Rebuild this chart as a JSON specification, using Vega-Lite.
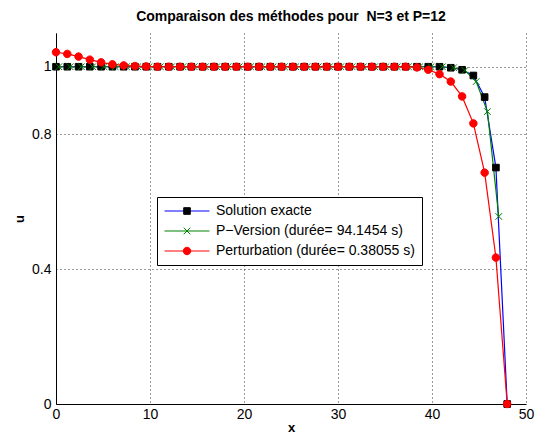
{
  "$schema": "https://vega.github.io/schema/vega-lite/v6.json",
  "width": 470,
  "height": 371,
  "autosize": "none",
  "padding": {"left": 56, "top": 33, "right": 9, "bottom": 33},
  "background": "white",
  "title": {"text": "Comparaison des méthodes pour \u00a0N=3 et P=12", "font": "Liberation Sans", "fontSize": 14, "fontWeight": "bold", "color": "black", "offset": 9, "anchor": "middle"},
  "config": {"view": {"stroke": null}, "font": "Liberation Sans"},
  "data": {"values": [
    {"serie": "Solution exacte", "x": 0, "u": 1.0},
    {"serie": "Solution exacte", "x": 1.2, "u": 1.0},
    {"serie": "Solution exacte", "x": 2.4, "u": 1.0},
    {"serie": "Solution exacte", "x": 3.6, "u": 1.0},
    {"serie": "Solution exacte", "x": 4.8, "u": 1.0},
    {"serie": "Solution exacte", "x": 6.0, "u": 1.0},
    {"serie": "Solution exacte", "x": 7.2, "u": 1.0},
    {"serie": "Solution exacte", "x": 8.4, "u": 1.0},
    {"serie": "Solution exacte", "x": 9.6, "u": 1.0},
    {"serie": "Solution exacte", "x": 10.8, "u": 1.0},
    {"serie": "Solution exacte", "x": 12.0, "u": 1.0},
    {"serie": "Solution exacte", "x": 13.2, "u": 1.0},
    {"serie": "Solution exacte", "x": 14.4, "u": 1.0},
    {"serie": "Solution exacte", "x": 15.6, "u": 1.0},
    {"serie": "Solution exacte", "x": 16.8, "u": 1.0},
    {"serie": "Solution exacte", "x": 18.0, "u": 1.0},
    {"serie": "Solution exacte", "x": 19.2, "u": 1.0},
    {"serie": "Solution exacte", "x": 20.4, "u": 1.0},
    {"serie": "Solution exacte", "x": 21.6, "u": 1.0},
    {"serie": "Solution exacte", "x": 22.8, "u": 1.0},
    {"serie": "Solution exacte", "x": 24.0, "u": 1.0},
    {"serie": "Solution exacte", "x": 25.2, "u": 1.0},
    {"serie": "Solution exacte", "x": 26.4, "u": 1.0},
    {"serie": "Solution exacte", "x": 27.6, "u": 1.0},
    {"serie": "Solution exacte", "x": 28.8, "u": 1.0},
    {"serie": "Solution exacte", "x": 30.0, "u": 1.0},
    {"serie": "Solution exacte", "x": 31.2, "u": 1.0},
    {"serie": "Solution exacte", "x": 32.4, "u": 1.0},
    {"serie": "Solution exacte", "x": 33.6, "u": 1.0},
    {"serie": "Solution exacte", "x": 34.8, "u": 1.0},
    {"serie": "Solution exacte", "x": 36.0, "u": 1.0},
    {"serie": "Solution exacte", "x": 37.2, "u": 1.0},
    {"serie": "Solution exacte", "x": 38.4, "u": 1.0},
    {"serie": "Solution exacte", "x": 39.6, "u": 1.0},
    {"serie": "Solution exacte", "x": 40.8, "u": 1.0},
    {"serie": "Solution exacte", "x": 42.0, "u": 0.997},
    {"serie": "Solution exacte", "x": 43.2, "u": 0.991},
    {"serie": "Solution exacte", "x": 44.4, "u": 0.974},
    {"serie": "Solution exacte", "x": 45.6, "u": 0.910},
    {"serie": "Solution exacte", "x": 46.8, "u": 0.701},
    {"serie": "Solution exacte", "x": 48.0, "u": 0.0},
    {"serie": "P−Version (durée= 94.1454 s)", "x": 0.3, "u": 1.0},
    {"serie": "P−Version (durée= 94.1454 s)", "x": 1.5, "u": 1.0},
    {"serie": "P−Version (durée= 94.1454 s)", "x": 2.7, "u": 1.0},
    {"serie": "P−Version (durée= 94.1454 s)", "x": 3.9, "u": 1.0},
    {"serie": "P−Version (durée= 94.1454 s)", "x": 5.1, "u": 1.0},
    {"serie": "P−Version (durée= 94.1454 s)", "x": 6.3, "u": 1.0},
    {"serie": "P−Version (durée= 94.1454 s)", "x": 7.5, "u": 1.0},
    {"serie": "P−Version (durée= 94.1454 s)", "x": 8.7, "u": 1.0},
    {"serie": "P−Version (durée= 94.1454 s)", "x": 9.9, "u": 1.0},
    {"serie": "P−Version (durée= 94.1454 s)", "x": 11.1, "u": 1.0},
    {"serie": "P−Version (durée= 94.1454 s)", "x": 12.3, "u": 1.0},
    {"serie": "P−Version (durée= 94.1454 s)", "x": 13.5, "u": 1.0},
    {"serie": "P−Version (durée= 94.1454 s)", "x": 14.7, "u": 1.0},
    {"serie": "P−Version (durée= 94.1454 s)", "x": 15.9, "u": 1.0},
    {"serie": "P−Version (durée= 94.1454 s)", "x": 17.1, "u": 1.0},
    {"serie": "P−Version (durée= 94.1454 s)", "x": 18.3, "u": 1.0},
    {"serie": "P−Version (durée= 94.1454 s)", "x": 19.5, "u": 1.0},
    {"serie": "P−Version (durée= 94.1454 s)", "x": 20.7, "u": 1.0},
    {"serie": "P−Version (durée= 94.1454 s)", "x": 21.9, "u": 1.0},
    {"serie": "P−Version (durée= 94.1454 s)", "x": 23.1, "u": 1.0},
    {"serie": "P−Version (durée= 94.1454 s)", "x": 24.3, "u": 1.0},
    {"serie": "P−Version (durée= 94.1454 s)", "x": 25.5, "u": 1.0},
    {"serie": "P−Version (durée= 94.1454 s)", "x": 26.7, "u": 1.0},
    {"serie": "P−Version (durée= 94.1454 s)", "x": 27.9, "u": 1.0},
    {"serie": "P−Version (durée= 94.1454 s)", "x": 29.1, "u": 1.0},
    {"serie": "P−Version (durée= 94.1454 s)", "x": 30.3, "u": 1.0},
    {"serie": "P−Version (durée= 94.1454 s)", "x": 31.5, "u": 1.0},
    {"serie": "P−Version (durée= 94.1454 s)", "x": 32.7, "u": 1.0},
    {"serie": "P−Version (durée= 94.1454 s)", "x": 33.9, "u": 1.0},
    {"serie": "P−Version (durée= 94.1454 s)", "x": 35.1, "u": 1.0},
    {"serie": "P−Version (durée= 94.1454 s)", "x": 36.3, "u": 1.0},
    {"serie": "P−Version (durée= 94.1454 s)", "x": 37.5, "u": 1.0},
    {"serie": "P−Version (durée= 94.1454 s)", "x": 38.7, "u": 1.0},
    {"serie": "P−Version (durée= 94.1454 s)", "x": 39.9, "u": 1.0},
    {"serie": "P−Version (durée= 94.1454 s)", "x": 41.1, "u": 1.0},
    {"serie": "P−Version (durée= 94.1454 s)", "x": 42.3, "u": 0.997},
    {"serie": "P−Version (durée= 94.1454 s)", "x": 43.5, "u": 0.989},
    {"serie": "P−Version (durée= 94.1454 s)", "x": 44.7, "u": 0.956},
    {"serie": "P−Version (durée= 94.1454 s)", "x": 45.9, "u": 0.867},
    {"serie": "P−Version (durée= 94.1454 s)", "x": 47.1, "u": 0.556},
    {"serie": "Perturbation (durée= 0.38055 s)", "x": 0, "u": 1.043},
    {"serie": "Perturbation (durée= 0.38055 s)", "x": 1.2, "u": 1.038},
    {"serie": "Perturbation (durée= 0.38055 s)", "x": 2.4, "u": 1.030},
    {"serie": "Perturbation (durée= 0.38055 s)", "x": 3.6, "u": 1.021},
    {"serie": "Perturbation (durée= 0.38055 s)", "x": 4.8, "u": 1.013},
    {"serie": "Perturbation (durée= 0.38055 s)", "x": 6.0, "u": 1.007},
    {"serie": "Perturbation (durée= 0.38055 s)", "x": 7.2, "u": 1.004},
    {"serie": "Perturbation (durée= 0.38055 s)", "x": 8.4, "u": 1.002},
    {"serie": "Perturbation (durée= 0.38055 s)", "x": 9.6, "u": 1.001},
    {"serie": "Perturbation (durée= 0.38055 s)", "x": 10.8, "u": 1.0},
    {"serie": "Perturbation (durée= 0.38055 s)", "x": 12.0, "u": 1.0},
    {"serie": "Perturbation (durée= 0.38055 s)", "x": 13.2, "u": 1.0},
    {"serie": "Perturbation (durée= 0.38055 s)", "x": 14.4, "u": 1.0},
    {"serie": "Perturbation (durée= 0.38055 s)", "x": 15.6, "u": 1.0},
    {"serie": "Perturbation (durée= 0.38055 s)", "x": 16.8, "u": 1.0},
    {"serie": "Perturbation (durée= 0.38055 s)", "x": 18.0, "u": 1.0},
    {"serie": "Perturbation (durée= 0.38055 s)", "x": 19.2, "u": 1.0},
    {"serie": "Perturbation (durée= 0.38055 s)", "x": 20.4, "u": 1.0},
    {"serie": "Perturbation (durée= 0.38055 s)", "x": 21.6, "u": 1.0},
    {"serie": "Perturbation (durée= 0.38055 s)", "x": 22.8, "u": 1.0},
    {"serie": "Perturbation (durée= 0.38055 s)", "x": 24.0, "u": 1.0},
    {"serie": "Perturbation (durée= 0.38055 s)", "x": 25.2, "u": 1.0},
    {"serie": "Perturbation (durée= 0.38055 s)", "x": 26.4, "u": 1.0},
    {"serie": "Perturbation (durée= 0.38055 s)", "x": 27.6, "u": 1.0},
    {"serie": "Perturbation (durée= 0.38055 s)", "x": 28.8, "u": 1.0},
    {"serie": "Perturbation (durée= 0.38055 s)", "x": 30.0, "u": 1.0},
    {"serie": "Perturbation (durée= 0.38055 s)", "x": 31.2, "u": 1.0},
    {"serie": "Perturbation (durée= 0.38055 s)", "x": 32.4, "u": 1.0},
    {"serie": "Perturbation (durée= 0.38055 s)", "x": 33.6, "u": 1.0},
    {"serie": "Perturbation (durée= 0.38055 s)", "x": 34.8, "u": 1.0},
    {"serie": "Perturbation (durée= 0.38055 s)", "x": 36.0, "u": 1.0},
    {"serie": "Perturbation (durée= 0.38055 s)", "x": 37.2, "u": 1.0},
    {"serie": "Perturbation (durée= 0.38055 s)", "x": 38.4, "u": 0.998},
    {"serie": "Perturbation (durée= 0.38055 s)", "x": 39.6, "u": 0.991},
    {"serie": "Perturbation (durée= 0.38055 s)", "x": 40.8, "u": 0.978},
    {"serie": "Perturbation (durée= 0.38055 s)", "x": 42.0, "u": 0.956},
    {"serie": "Perturbation (durée= 0.38055 s)", "x": 43.2, "u": 0.912},
    {"serie": "Perturbation (durée= 0.38055 s)", "x": 44.4, "u": 0.832},
    {"serie": "Perturbation (durée= 0.38055 s)", "x": 45.6, "u": 0.686},
    {"serie": "Perturbation (durée= 0.38055 s)", "x": 46.8, "u": 0.434},
    {"serie": "Perturbation (durée= 0.38055 s)", "x": 48.0, "u": 0.0}
  ]},
  "layer": [
    {
      "mark": {"type": "line", "strokeWidth": 1.2},
      "encoding": {
        "x": {"field": "x", "type": "quantitative",
          "scale": {"domain": [0, 50], "nice": false, "zero": false},
          "axis": {"values": [0, 10, 20, 30, 40, 50], "title": "x", "titleFont": "Liberation Sans", "titleFontSize": 13, "titleFontWeight": "bold", "titleColor": "black", "titlePadding": 0,
            "labelFont": "Liberation Sans", "labelFontSize": 14, "labelColor": "black", "labelPadding": 3, "labelFlush": false,
            "ticks": false, "domainColor": "black", "domainWidth": 1,
            "grid": true, "gridColor": "#222222", "gridDash": [1, 3], "gridWidth": 1, "gridOpacity": 0.9}},
        "y": {"field": "u", "type": "quantitative",
          "scale": {"domain": [0, 1.1], "nice": false, "zero": false},
          "axis": {"values": [0, 0.4, 0.8, 1], "labelExpr": "'' + datum.value", "title": "u", "titleFont": "Liberation Sans", "titleFontSize": 13, "titleFontWeight": "bold", "titleColor": "black", "titlePadding": 5,
            "labelFont": "Liberation Sans", "labelFontSize": 14, "labelColor": "black", "labelPadding": 5,
            "ticks": false, "domainColor": "black", "domainWidth": 1,
            "grid": true, "gridColor": "#222222", "gridDash": [1, 3], "gridWidth": 1, "gridOpacity": 0.9}},
        "color": {"field": "serie", "type": "nominal",
          "sort": ["Solution exacte", "P−Version (durée= 94.1454 s)", "Perturbation (durée= 0.38055 s)"],
          "scale": {"range": ["#0000ff", "#008000", "#ff0000"]},
          "legend": {"title": null, "orient": "none", "legendX": 101, "legendY": 164,
            "symbolType": "M-7.5,0H7.5", "symbolSize": 36, "symbolStrokeWidth": 1, "symbolOffset": 16,
            "labelFont": "Liberation Sans", "labelFontSize": 14, "labelColor": "black", "labelOffset": 22, "labelLimit": 500,
            "padding": 7, "rowPadding": 6, "strokeColor": "black", "fillColor": "white", "cornerRadius": 0, "zindex": 0}}
      }
    },
    {
      "mark": {"type": "point", "size": 36, "strokeWidth": 1, "opacity": 1},
      "encoding": {
        "x": {"field": "x", "type": "quantitative"},
        "y": {"field": "u", "type": "quantitative"},
        "fill": {"field": "serie", "type": "nominal",
          "scale": {"domain": ["Solution exacte", "P−Version (durée= 94.1454 s)", "Perturbation (durée= 0.38055 s)"], "range": ["#000000", "#008000", "#ff0000"]},
          "legend": {"title": null, "orient": "none", "legendX": 101, "legendY": 164,
            "symbolSize": 36, "symbolStrokeWidth": 1, "symbolOffset": 16,
            "labelFont": "Liberation Sans", "labelFontSize": 14, "labelOpacity": 0, "labelOffset": 22, "labelLimit": 500,
            "padding": 7, "rowPadding": 6, "zindex": 1}},
        "stroke": {"field": "serie", "type": "nominal",
          "scale": {"domain": ["Solution exacte", "P−Version (durée= 94.1454 s)", "Perturbation (durée= 0.38055 s)"], "range": ["#000000", "#008000", "#ff0000"]}},
        "shape": {"field": "serie", "type": "nominal",
          "scale": {"domain": ["Solution exacte", "P−Version (durée= 94.1454 s)", "Perturbation (durée= 0.38055 s)"], "range": ["M-1.1,-1.1H1.1V1.1H-1.1Z", "M-1.1,-1.1L1.1,1.1M-1.1,1.1L1.1,-1.1", "M-1.25,0A1.25,1.25,0,1,0,1.25,0A1.25,1.25,0,1,0,-1.25,0Z"]}}
      }
    }
  ]
}
